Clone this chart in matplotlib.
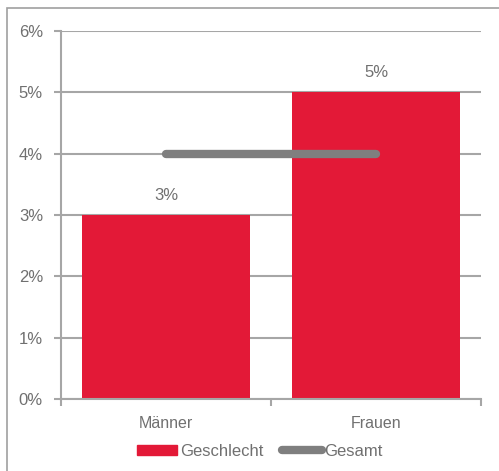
import matplotlib.pyplot as plt
from matplotlib.patches import Rectangle
from matplotlib.lines import Line2D
from matplotlib.ticker import FixedLocator

plt.rcParams['font.family'] = ['Liberation Sans', 'DejaVu Sans']

categories = ['Männer', 'Frauen']
geschlecht = [3, 5]
gesamt = [4, 4]
y_ticks = [0, 1, 2, 3, 4, 5, 6]

red = '#E31937'
gray_line = '#7F7F7F'
text_col = '#707070'
axis_col = '#A6A6A6'

fig = plt.figure(figsize=(4.99, 4.71), dpi=100)
fig.patches.append(Rectangle((7 / 499, -0.1), 1.2, 1 - 8 / 471 + 0.1,
                             transform=fig.transFigure, fill=False,
                             edgecolor='#A0A0A0', linewidth=1.2))

ax = fig.add_axes([61 / 499, 1 - 399 / 471, 420 / 499, 368 / 471])
x = range(len(categories))
ax.bar(x, geschlecht, width=0.8, color=red, zorder=2)
ax.plot(x, gesamt, color=gray_line, linewidth=6, solid_capstyle='round', zorder=3)

for xi, v in zip(x, geschlecht):
    ax.text(xi, v + 0.2, f'{v}%', ha='center', va='bottom', fontsize=12, color=text_col)

ax.set_xlim(-0.5, 1.5)
ax.set_ylim(0, 6)
ax.set_yticks(y_ticks)
ax.set_yticklabels([f'{t}%' for t in y_ticks])
ax.set_xticks(list(x))
ax.set_xticklabels(categories)
ax.xaxis.set_minor_locator(FixedLocator([-0.5, 0.5, 1.5]))
ax.tick_params(axis='x', which='major', length=0, pad=12, labelsize=11.5, labelcolor=text_col)
ax.tick_params(axis='x', which='minor', length=5, width=1.5, color=axis_col)
ax.tick_params(axis='y', length=5, width=1.5, color=axis_col, pad=8, labelsize=12, labelcolor=text_col)

ax.grid(axis='y', color=axis_col, linewidth=1.5, zorder=0)
ax.set_axisbelow(True)
for s in ['top', 'right']:
    ax.spines[s].set_visible(False)
for s in ['left', 'bottom']:
    ax.spines[s].set_color(axis_col)
    ax.spines[s].set_linewidth(1.5)

handles = [Rectangle((0, 0), 1, 1, color=red),
           Line2D([0], [0], color=gray_line, linewidth=6, solid_capstyle='round')]
fig.legend(handles, ['Geschlecht', 'Gesamt'], loc='center', bbox_to_anchor=(260 / 499, 1 - 451 / 471),
           ncol=2, frameon=False, fontsize=12, labelcolor=text_col,
           handlelength=2.4, handleheight=0.55, handletextpad=0.15, columnspacing=1.1)

fig.savefig('out.png', dpi=100)
